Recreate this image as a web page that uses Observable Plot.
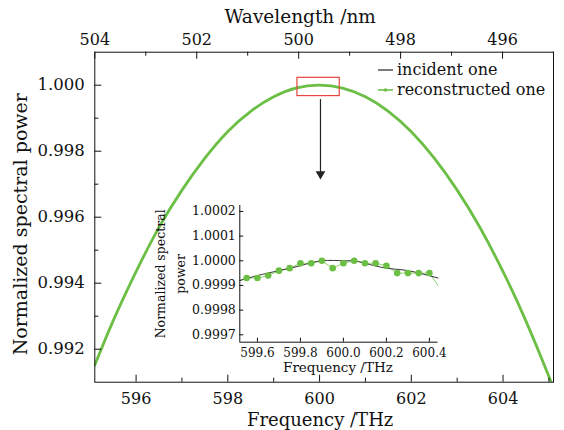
<!DOCTYPE html>
<html>
<head>
<meta charset="utf-8">
<script src="https://cdn.jsdelivr.net/npm/d3@7"></script>
<script src="https://cdn.jsdelivr.net/npm/@observablehq/plot@0.6"></script>
<style>
  body { margin: 0; background: #fff; }
  #wrap { position: relative; width: 564px; height: 430px; font-family: "DejaVu Serif", serif; }
  #wrap > div, #wrap > svg { position: absolute; }
</style>
</head>
<body>
<div id="wrap"></div>
<script>
// ---------- data ----------
const mainFreq = [595.1, 595.5, 596, 596.5, 597, 597.5, 598, 598.5, 599, 599.5, 600, 600.5, 601, 601.5, 602, 602.5, 603, 603.5, 604, 604.5, 605, 605.1];
const incidentPower = [0.99152, 0.99285, 0.99435, 0.99568, 0.99682, 0.99779, 0.99859, 0.99921, 0.99965, 0.99991, 1.00000, 0.99991, 0.99965, 0.99921, 0.99859, 0.99779, 0.99682, 0.99568, 0.99435, 0.99285, 0.99117, 0.99080];
const reconPower   = [0.99152, 0.99286, 0.99435, 0.99569, 0.99682, 0.99779, 0.99860, 0.99921, 0.99965, 0.99992, 1.00000, 0.99991, 0.99965, 0.99921, 0.99859, 0.99779, 0.99682, 0.99568, 0.99435, 0.99285, 0.99117, 0.99080];

const freqDomain = [595.1, 605.1];
const powerDomain = [0.991, 1.001];
const freqMajor = [596, 598, 600, 602, 604];
const freqMinor = [597, 599, 601, 603, 605];
const powerMajor = [0.992, 0.994, 0.996, 0.998, 1.000];
const powerMinor = [0.993, 0.995, 0.997, 0.999];

const waveDomain = [504, 495];
const waveMajor = [504, 502, 500, 498, 496];
const waveMinor = [503, 501, 499, 497, 495];

// inset
const insetXDomain = [599.518, 600.44];
const insetYDomain = [0.99967, 1.000224];
const insetXTicks = [599.6, 599.8, 600.0, 600.2, 600.4];
const insetYTicks = [0.9997, 0.9998, 0.9999, 1.0000, 1.0001, 1.0002];
const insetIncF = [599.518, 599.6, 599.7, 599.8, 599.9, 600.0, 600.05, 600.1, 600.2, 600.3, 600.44];
const insetIncP = [0.99992, 0.99994, 0.99996, 0.99998, 1.00000, 1.00000, 1.00000, 0.99999, 0.99997, 0.99996, 0.99993];
const insetDotF = [599.55, 599.60, 599.65, 599.70, 599.75, 599.80, 599.85, 599.90, 599.95, 600.00, 600.05, 600.10, 600.15, 600.20, 600.25, 600.30, 600.35, 600.40];
const insetDotP = [0.99993, 0.99993, 0.99994, 0.99996, 0.99997, 0.99999, 0.99999, 1.00000, 0.99997, 0.99999, 1.00000, 0.99999, 0.99999, 0.99998, 0.99995, 0.99995, 0.99995, 0.99995];
const insetLineF = [599.518, ...insetDotF, 600.44];
const insetLineP = [0.99992, ...insetDotP, 0.99990];

const arrowFrom = [600.02, 0.99958];
const arrowTo = [600.02, 0.99719];

const legendLabels = ["incident one", "reconstructed one"];

// ---------- styles ----------
const GREEN = "#6cbf45";
const FONT = "DejaVu Serif";
const W = 564, H = 430;
const mL = 94.3, mR = 11, mT = 51.7, mB = 48.3;
const innerW = W - mL - mR, innerH = H - mT - mB;

const mainInc = mainFreq.map((f, i) => ({f, p: incidentPower[i]}));
const mainRec = mainFreq.map((f, i) => ({f, p: reconPower[i]}));

const wrap = document.getElementById("wrap");

const mainChart = Plot.plot({
  width: W, height: H,
  marginLeft: mL, marginRight: mR, marginTop: mT, marginBottom: mB,
  x: {domain: freqDomain, axis: null},
  y: {domain: powerDomain, axis: null},
  style: {fontFamily: FONT, background: "transparent", color: "#111"},
  marks: [
    Plot.line(mainInc, {x: "f", y: "p", stroke: "#222", strokeWidth: 1, curve: "natural", clip: true}),
    Plot.line(mainRec, {x: "f", y: "p", stroke: GREEN, strokeWidth: 2.8, curve: "natural", clip: true}),
    Plot.rect([0], {x1: () => insetXDomain[0], x2: () => insetXDomain[1], y1: () => insetYDomain[0], y2: () => insetYDomain[1], fill: "none", stroke: "#e5463c", strokeWidth: 1.2}),
    Plot.link([0], {x1: () => arrowFrom[0], y1: () => arrowFrom[1], x2: () => arrowTo[0], y2: () => arrowTo[1], stroke: "#222", strokeWidth: 1.2}),
    Plot.dot([0], {x: () => arrowTo[0], y: () => arrowTo[1], symbol: "triangle", rotate: 180, r: 3.6, fill: "#222", stroke: "none", dy: -4}),
    Plot.frame({stroke: "#111", strokeWidth: 1}),
    Plot.ruleX(freqMajor, {insetTop: innerH - 7, stroke: "#111"}),
    Plot.ruleX(freqMinor, {insetTop: innerH - 4, stroke: "#111"}),
    Plot.ruleY(powerMajor, {insetRight: innerW - 7, stroke: "#111"}),
    Plot.ruleY(powerMinor, {insetRight: innerW - 4, stroke: "#111"}),
    Plot.text(freqMajor, {x: d => d, text: d => String(d), frameAnchor: "bottom", dy: 17, fontSize: 16, lineAnchor: "middle", fill: "#111"}),
    Plot.text(powerMajor, {y: d => d, text: d => d3.format(".3f")(d), frameAnchor: "left", textAnchor: "end", dx: -10, fontSize: 16.5, lineAnchor: "middle", fill: "#111"}),
    Plot.text(["Frequency /THz"], {text: d => d, frameAnchor: "bottom", dx: -4, dy: 38, fontSize: 18, lineAnchor: "middle", fill: "#111"}),
    Plot.text(["Normalized spectral power"], {text: d => d, frameAnchor: "left", textAnchor: "middle", rotate: -90, dx: -74, dy: 7, fontSize: 19, lineAnchor: "middle", fill: "#111"})
  ]
});
mainChart.style.left = "0px"; mainChart.style.top = "0px";
wrap.appendChild(mainChart);

const topAxis = Plot.plot({
  width: W, height: H,
  marginLeft: mL, marginRight: mR, marginTop: mT, marginBottom: mB,
  x: {domain: waveDomain, axis: null},
  style: {fontFamily: FONT, background: "transparent", color: "#111"},
  marks: [
    Plot.ruleX(waveMajor, {insetBottom: innerH - 7, stroke: "#111"}),
    Plot.ruleX(waveMinor, {insetBottom: innerH - 4, stroke: "#111"}),
    Plot.text(waveMajor, {x: d => d, text: d => String(d), frameAnchor: "top", dy: -12, fontSize: 16, lineAnchor: "middle", fill: "#111"}),
    Plot.text(["Wavelength /nm"], {text: d => d, frameAnchor: "top", dx: -24, dy: -35, fontSize: 18.5, lineAnchor: "middle", fill: "#111"})
  ]
});
topAxis.style.left = "0px"; topAxis.style.top = "0px"; topAxis.style.pointerEvents = "none";
wrap.appendChild(topAxis);

// ---------- inset ----------
const iW = 310, iH = 185, iL = 99.3, iR = 12.5, iT = 10, iB = 38.3;
const iInnerW = iW - iL - iR, iInnerH = iH - iT - iB;
const incData = insetIncF.map((f, i) => ({f, p: insetIncP[i]}));
const lineData = insetLineF.map((f, i) => ({f, p: insetLineP[i]}));
const dotData = insetDotF.map((f, i) => ({f, p: insetDotP[i]}));

const inset = Plot.plot({
  width: iW, height: iH,
  marginLeft: iL, marginRight: iR, marginTop: iT, marginBottom: iB,
  x: {domain: insetXDomain, axis: null},
  y: {domain: insetYDomain, axis: null},
  style: {fontFamily: FONT, background: "transparent", color: "#111", overflow: "visible"},
  marks: [
    Plot.line(lineData, {x: "f", y: "p", stroke: "#8fd36e", strokeWidth: 1}),
    Plot.line(incData, {x: "f", y: "p", stroke: "#333", strokeWidth: 1, curve: "natural"}),
    Plot.dot(dotData, {x: "f", y: "p", r: 3.3, fill: GREEN, stroke: "none"}),
    Plot.ruleX([0], {x: () => insetXDomain[0], stroke: "#111"}),
    Plot.ruleY([0], {y: () => insetYDomain[0], stroke: "#111"}),
    Plot.ruleX(insetXTicks, {insetTop: iInnerH - 4, stroke: "#111"}),
    Plot.ruleY(insetYTicks, {insetRight: iInnerW - 4, stroke: "#111"}),
    Plot.text(insetXTicks, {x: d => d, text: d => d3.format(".1f")(d), frameAnchor: "bottom", dy: 11, fontSize: 12, lineAnchor: "middle", fill: "#111"}),
    Plot.text(insetYTicks, {y: d => d, text: d => d3.format(".4f")(d), frameAnchor: "left", textAnchor: "end", dx: -4, fontSize: 12.5, lineAnchor: "middle", fill: "#111"}),
    Plot.text(["Frequency /THz"], {text: d => d, frameAnchor: "bottom", dx: -1, dy: 25, fontSize: 13.5, lineAnchor: "middle", fill: "#111"}),
    Plot.text(["Normalized spectral\npower"], {text: d => d, frameAnchor: "left", textAnchor: "middle", rotate: -90, dx: -71, dy: 0, fontSize: 12.5, lineHeight: 1.55, lineAnchor: "middle", fill: "#111"})
  ]
});
inset.style.left = "140px"; inset.style.top = "195px";
wrap.appendChild(inset);

// ---------- legend ----------
const leg = d3.create("svg").attr("width", 190).attr("height", 50)
  .style("left", "370px").style("top", "55px").style("font-family", FONT);
legendLabels.forEach((lab, i) => {
  const y = 15 + i * 20;
  const g = leg.append("g");
  g.append("line").attr("x1", 8).attr("x2", 23).attr("y1", y).attr("y2", y)
    .attr("stroke", i === 0 ? "#222" : GREEN).attr("stroke-width", i === 0 ? 1.2 : 1.6);
  if (i === 1) g.append("circle").attr("cx", 15.5).attr("cy", y).attr("r", 1.8).attr("fill", GREEN);
  g.append("text").attr("x", 27).attr("y", y).attr("dy", "0.32em").attr("font-size", 16).attr("fill", "#111").text(lab);
});
wrap.appendChild(leg.node());
</script>
</body>
</html>
